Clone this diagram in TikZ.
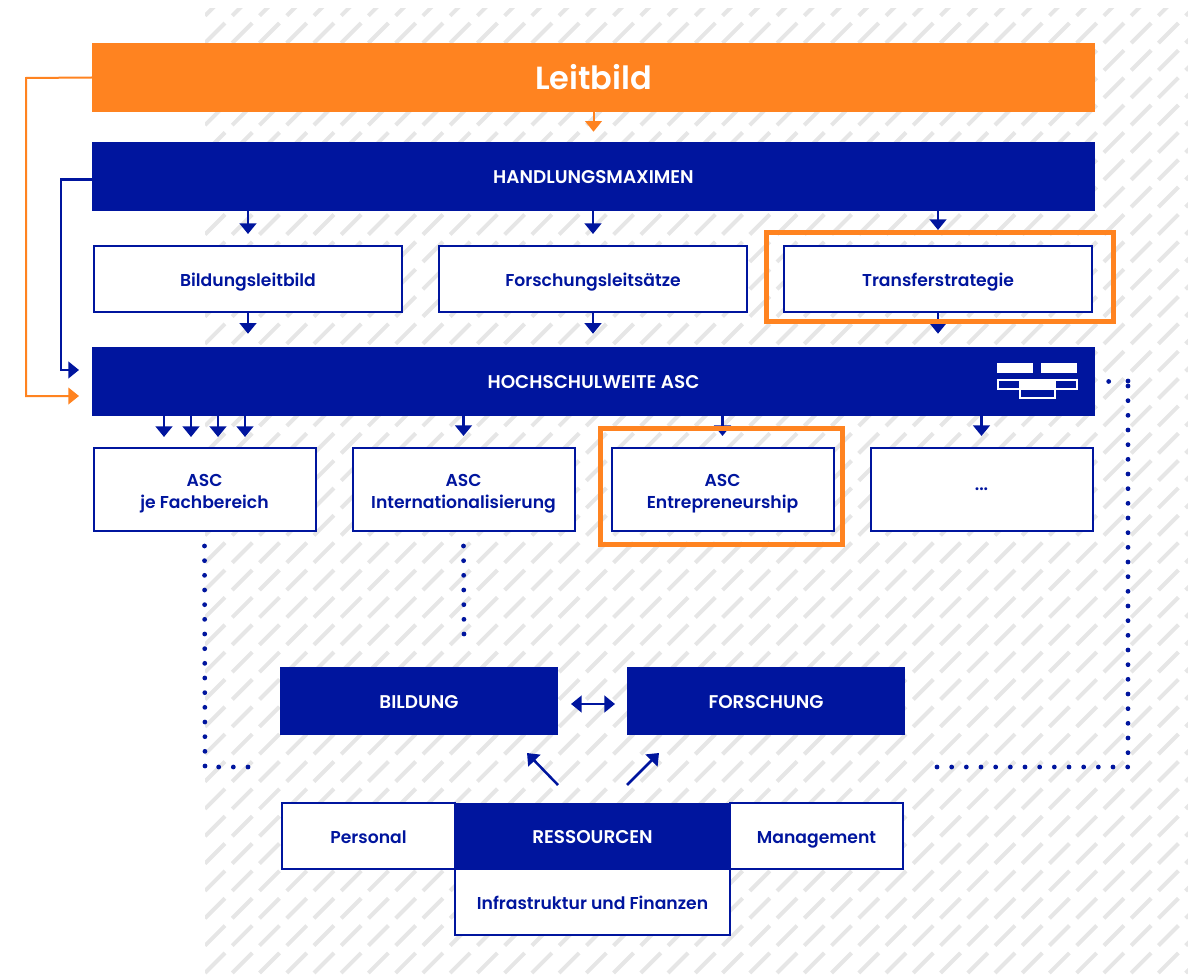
\documentclass[tikz,border=0pt]{standalone}
\usepackage{fontspec}
\setmainfont[BoldFont={Poppins SemiBold}]{Poppins}
\usetikzlibrary{calc,arrows.meta}
\definecolor{myblue}{RGB}{0,21,158}
\definecolor{myorange}{RGB}{255,131,32}
\definecolor{myhatch}{RGB}{230,230,230}
\tikzstyle{solidbar}=[fill=myblue,text=white,inner sep=0pt,text height=10.5pt,text depth=0pt,font=\bfseries\fontsize{13.8}{16}\selectfont]
\tikzstyle{whitebox}=[draw=myblue,line width=1.5pt,fill=white,text=myblue,inner sep=0pt,text height=11.5pt,text depth=0pt,font=\bfseries\fontsize{12.9}{16.5}\selectfont]
\tikzstyle{twoline}=[whitebox,align=center,text height=27.8pt,text depth=0pt]
\tikzstyle{frame}=[draw=myorange,line width=3.75pt,inner sep=0pt]
\tikzstyle{bluearrow}=[myblue,line width=1.9pt,-{Triangle[width=12.5pt,length=8pt]}]
\tikzstyle{orangearrow}=[myorange,line width=1.5pt,-{Triangle[width=12.5pt,length=8pt]}]
\tikzstyle{dots}=[myblue,line width=3.6pt,line cap=round,dash pattern=on 0pt off 11pt]
\begin{document}
\begin{tikzpicture}[x=0.75pt,y=-0.75pt]
\useasboundingbox (0,0) rectangle (1188,977);
\begin{scope}
\clip (205,9) rectangle (1188,975);
\foreach \row in {0,...,36} {
  \foreach \col in {0,...,36} {
    \draw[myhatch,line width=3pt] (205+27.24*\col,15.7+27.35*\row) -- ++(20,-20);
  }
}
\end{scope}
\draw (593.5,77.5) node [fill=myorange,text=white,minimum width=752pt,minimum height=51.75pt,inner sep=0pt,font=\bfseries\fontsize{24}{28}\selectfont] (leitbild) {Leitbild};
\draw (593.5,176.5) node [solidbar,minimum width=752pt,minimum height=51.75pt] (maximen) {HANDLUNGSMAXIMEN};
\draw (248,279) node [whitebox,minimum width=231.5pt,minimum height=49.5pt] (bildungsl) {Bildungsleitbild};
\draw (593,279) node [whitebox,minimum width=231.5pt,minimum height=49.5pt] (forschungsl) {Forschungsleitsätze};
\draw (938,279) node [whitebox,minimum width=231.5pt,minimum height=49.5pt] (transfer) {Transferstrategie};
\draw (593.5,381.5) node [solidbar,minimum width=752pt,minimum height=51.75pt] (asc) {HOCHSCHULWEITE ASC};
\draw (204.5,489.5) node [twoline,minimum width=166.5pt,minimum height=62.25pt] (fach) {ASC\\je Fachbereich};
\draw (463.5,489.5) node [twoline,minimum width=166.5pt,minimum height=62.25pt] (intern) {ASC\\Internationalisierung};
\draw (722.5,489.5) node [twoline,minimum width=166.5pt,minimum height=62.25pt] (entre) {ASC\\Entrepreneurship};
\draw (981.5,489.5) node [whitebox,text height=2.2pt,minimum width=166.5pt,minimum height=62.25pt] (more) {...};
\draw (419,701) node [solidbar,minimum width=208.5pt,minimum height=51pt] (bildung) {BILDUNG};
\draw (766,701) node [solidbar,minimum width=208.5pt,minimum height=51pt] (forschung) {FORSCHUNG};
\draw (368.5,836) node [whitebox,minimum width=129.75pt,minimum height=49.5pt] (personal) {Personal};
\draw (816.5,836) node [whitebox,minimum width=129.75pt,minimum height=49.5pt] (management) {Management};
\draw (592.5,902) node [whitebox,minimum width=206.25pt,minimum height=49.5pt] (infra) {Infrastruktur und Finanzen};
\draw (592.5,836) node [solidbar,minimum width=206.25pt,minimum height=50pt] (ressourcen) {RESSOURCEN};
\coordinate (up1) at (527,753);
\coordinate (up2) at (659,753);
\coordinate (low1) at (558,785);
\coordinate (low2) at (627,785);
\coordinate (dot1) at (250,767);
\coordinate (dot2) at (464,634);
\coordinate (dot3) at (937,767);
\coordinate (corner1) at (205,767);
\coordinate (corner2) at (1128,767);
\coordinate (corner3) at (1128,381);
\coordinate (corner4) at (26,78);
\coordinate (corner5) at (26,396);
\coordinate (corner6) at (61,179.5);
\coordinate (corner7) at (61,370);
\coordinate (end1) at (79,396);
\coordinate (end2) at (79,370);
\coordinate (fach1) at (164,416);
\coordinate (fach2) at (191,416);
\coordinate (fach3) at (218,416);
\coordinate (fach4) at (245,416);
\draw[orangearrow] (leitbild.south) -- ($(maximen.north)+(0,-10)$);
\draw[orangearrow] (leitbild.west) -- (corner4) -- (corner5) -- (end1);
\draw[bluearrow,line width=1.7pt] ($(maximen.west)+(0,3)$) -- (corner6) -- (corner7) -- (end2);
\draw[bluearrow] (maximen.south -| bildungsl.north) -- ($(bildungsl.north)+(0,-11)$);
\draw[bluearrow] (maximen.south -| forschungsl.north) -- ($(forschungsl.north)+(0,-11)$);
\draw[bluearrow] (maximen.south -| transfer.north) -- ($(transfer.north)+(0,-15)$);
\draw[bluearrow] (bildungsl.south) -- ($(asc.north -| bildungsl.south)+(0,-13)$);
\draw[bluearrow] (forschungsl.south) -- ($(asc.north -| forschungsl.south)+(0,-13)$);
\draw[bluearrow] (transfer.south) -- ($(asc.north -| transfer.south)+(0,-13)$);
\draw[bluearrow] (fach1) -- +(0,21);
\draw[bluearrow] (fach2) -- +(0,21);
\draw[bluearrow] (fach3) -- +(0,21);
\draw[bluearrow] (fach4) -- +(0,21);
\draw[bluearrow] (asc.south -| intern.north) -- ($(intern.north)+(0,-11)$);
\draw[bluearrow] (asc.south -| entre.north) -- ($(entre.north)+(0,-11)$);
\draw[bluearrow] (asc.south -| more.north) -- ($(more.north)+(0,-11)$);
\draw[myblue,line width=1.9pt,{Triangle[width=12.5pt,length=8pt]}-{Triangle[width=12.5pt,length=8pt]}] (571,704) -- (615,704);
\draw[bluearrow] (low1) -- (up1);
\draw[bluearrow] (low2) -- (up2);
\draw[dots] ($(fach.south)+(0,14)$) -- (corner1) -- (dot1);
\draw[dots] ($(intern.south)+(0,14)$) -- (dot2);
\draw[dots] (dot3) -- (corner2) -- (corner3);
\draw[dots,dash pattern=on 0pt off 14.5pt] (corner3) -- ($(asc.east)+(12,0)$);
\draw (940,277) node [frame,minimum width=260pt,minimum height=67pt] (transferframe) {};
\draw (721.5,486.5) node [frame,minimum width=181pt,minimum height=87pt] (entreframe) {};
\fill[white] (997,363) rectangle (1033,373);
\fill[white] (1041,363) rectangle (1077,373);
\fill[white] (1019,380) rectangle (1056,389);
\draw[white,line width=0.8pt] (998,380) rectangle (1077,389);
\draw[white,line width=0.8pt] (1020,389) rectangle (1055,398);
\end{tikzpicture}
\end{document}
